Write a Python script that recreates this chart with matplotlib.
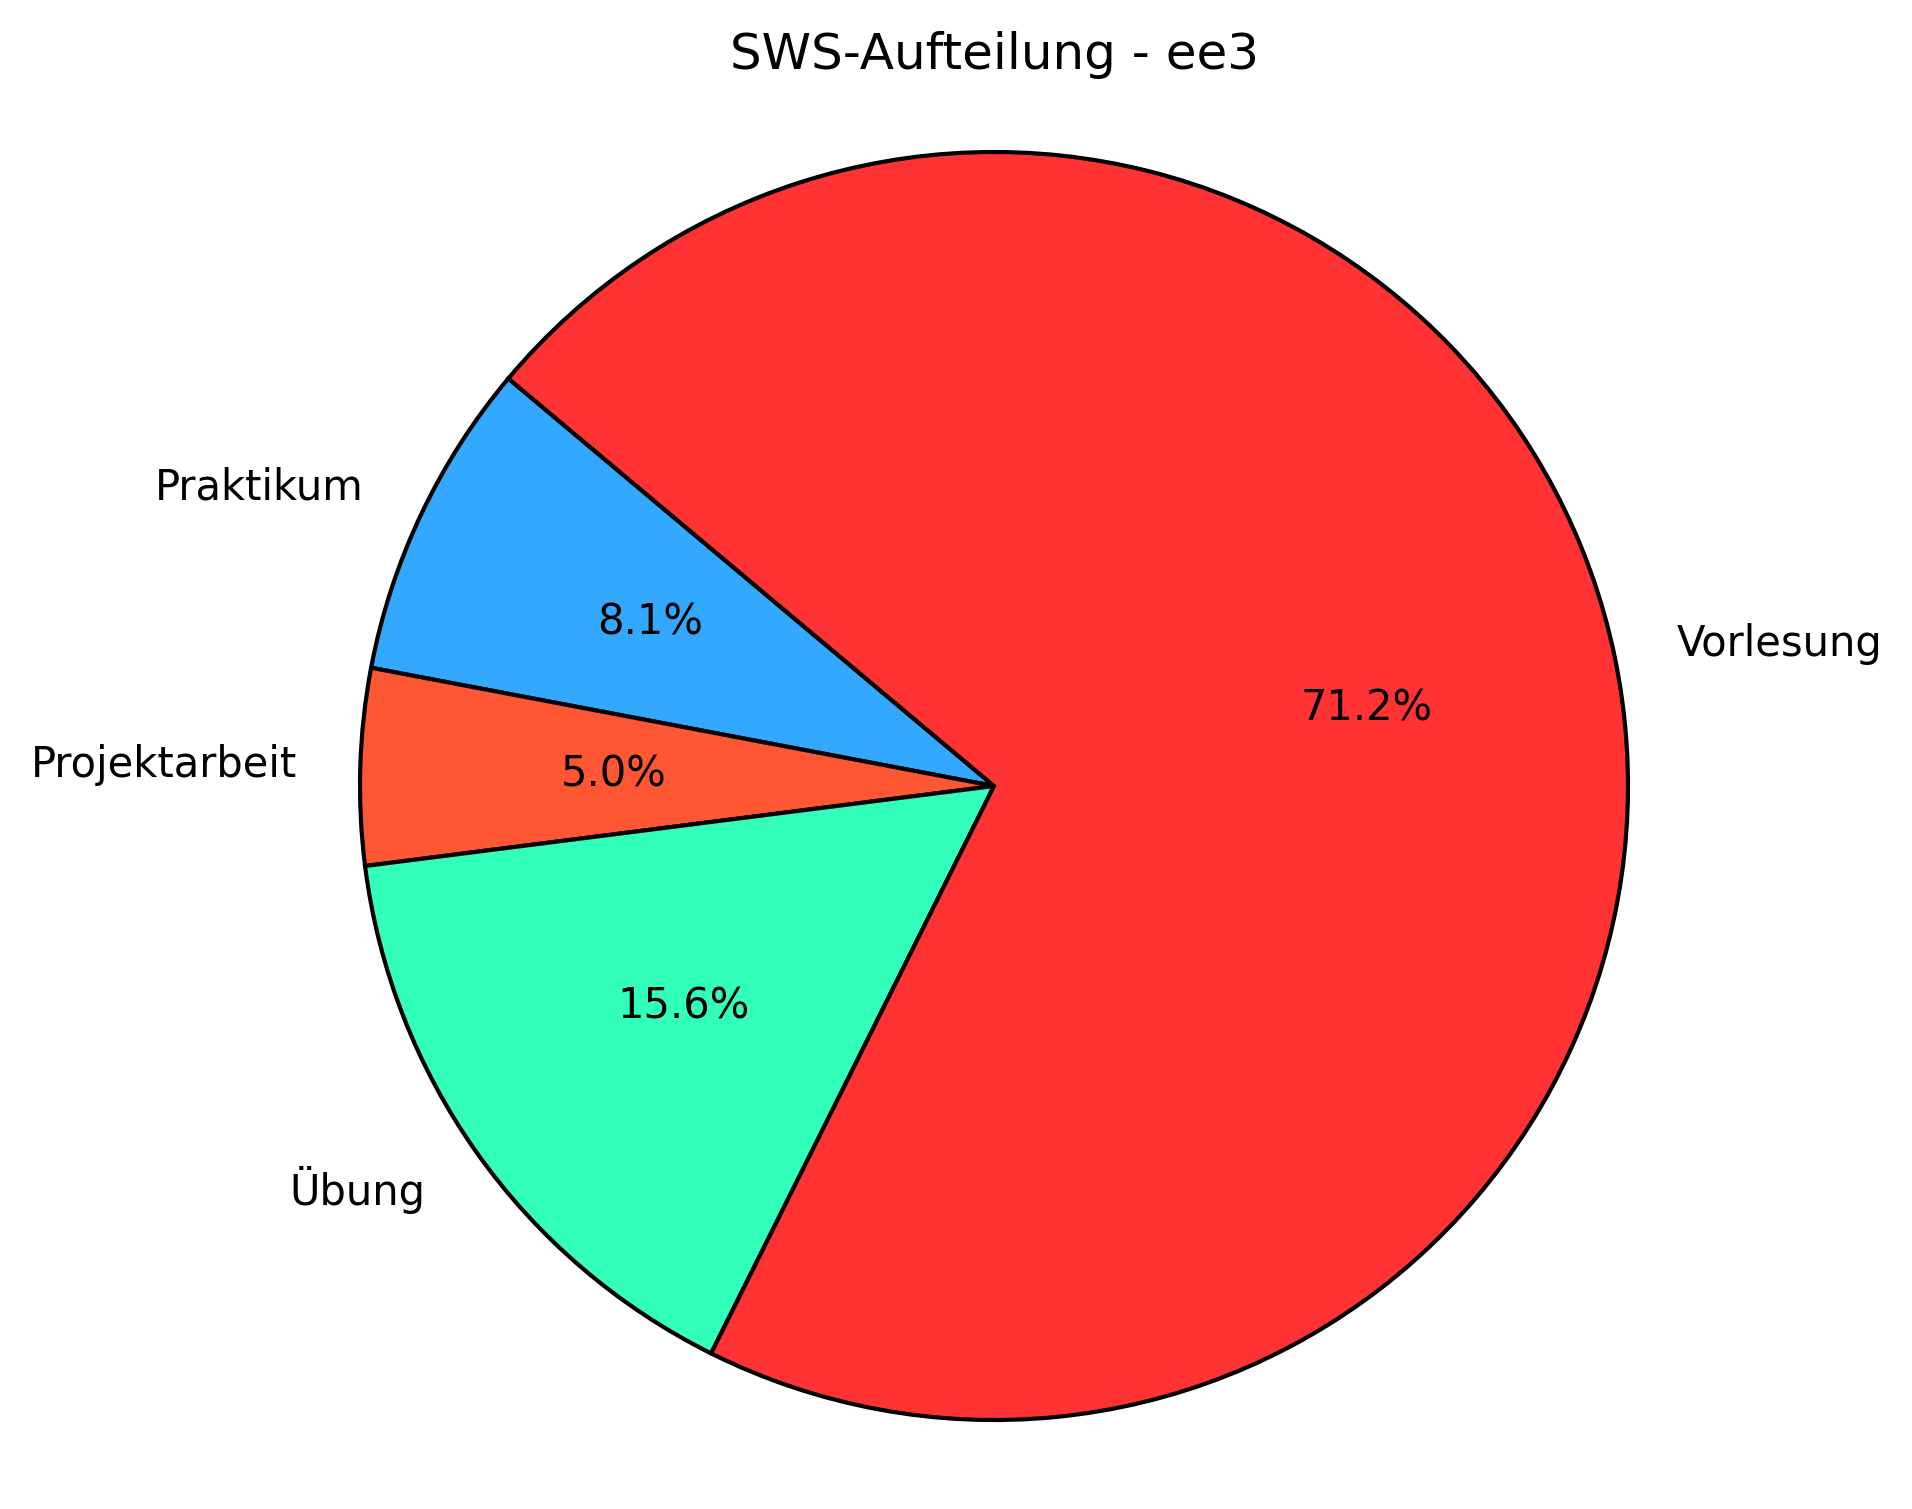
import matplotlib.pyplot as plt

# SWS values per category
labels = ["Praktikum", "Projektarbeit", "Übung", "Vorlesung"]
sws = [13, 8, 25, 114]
colors = ["#33A8FF", "#FF5733", "#33FFBD", "#FF3333"]

W, H = 1912, 1509
fig = plt.figure(figsize=(W / 300, H / 300), dpi=300)

# place the pie: centre at (994, 786) px from top-left, radius ~634 px
r = 634
cx, cy = 994, H - 786
side = 2.5 * r
ax = fig.add_axes([(cx - side / 2) / W, (cy - side / 2) / H, side / W, side / H])

ax.pie(sws, labels=labels, colors=colors, autopct="%1.1f%%", startangle=140,
       wedgeprops={"edgecolor": "black", "linewidth": 1},
       textprops={"fontsize": 10})
ax.set_aspect("equal")

fig.text(cx / W, 1 - 55 / H, "SWS-Aufteilung - ee3", ha="center", va="center", fontsize=12)

plt.savefig("out.png", dpi=300)
